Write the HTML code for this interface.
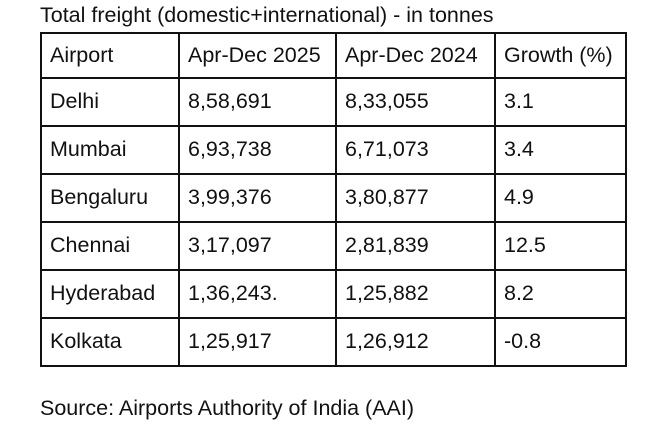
<!DOCTYPE html>
<html><head><style>
body{margin:0;width:660px;height:428px;background:#fff;font-family:"Liberation Sans",Arial,sans-serif;color:#111;position:relative;overflow:hidden}
.t{position:absolute;left:40px;top:3px;font-size:21.5px;line-height:24px}
.s{position:absolute;left:40px;top:396px;font-size:21.5px;line-height:24px}
.h{position:absolute;background:#111;height:2px;left:40px;width:587px}
.v{position:absolute;background:#111;width:2px;top:32px;height:335px}
.c{position:absolute;font-size:21.5px;line-height:24px}
</style></head><body>
<div class="t">Total freight (domestic+international) - in tonnes</div>
<div class="h" style="top:32px"></div><div class="h" style="top:77px"></div>
<div class="h" style="top:125px"></div><div class="h" style="top:173px"></div>
<div class="h" style="top:221px"></div><div class="h" style="top:269px"></div>
<div class="h" style="top:317px"></div><div class="h" style="top:365px"></div>
<div class="v" style="left:40px"></div><div class="v" style="left:178px"></div>
<div class="v" style="left:335px"></div><div class="v" style="left:494px"></div>
<div class="v" style="left:625px"></div>
<div class="c" style="left:50px;top:43px">Airport</div><div class="c" style="left:188px;top:43px">Apr-Dec 2025</div><div class="c" style="left:345px;top:43px">Apr-Dec 2024</div><div class="c" style="left:504px;top:43px">Growth (%)</div>
<div class="c" style="left:50px;top:89px">Delhi</div><div class="c" style="left:188px;top:89px">8,58,691</div><div class="c" style="left:345px;top:89px">8,33,055</div><div class="c" style="left:504px;top:89px">3.1</div>
<div class="c" style="left:50px;top:137px">Mumbai</div><div class="c" style="left:188px;top:137px">6,93,738</div><div class="c" style="left:345px;top:137px">6,71,073</div><div class="c" style="left:504px;top:137px">3.4</div>
<div class="c" style="left:50px;top:185px">Bengaluru</div><div class="c" style="left:188px;top:185px">3,99,376</div><div class="c" style="left:345px;top:185px">3,80,877</div><div class="c" style="left:504px;top:185px">4.9</div>
<div class="c" style="left:50px;top:233px">Chennai</div><div class="c" style="left:188px;top:233px">3,17,097</div><div class="c" style="left:345px;top:233px">2,81,839</div><div class="c" style="left:504px;top:233px">12.5</div>
<div class="c" style="left:50px;top:281px">Hyderabad</div><div class="c" style="left:188px;top:281px">1,36,243.</div><div class="c" style="left:345px;top:281px">1,25,882</div><div class="c" style="left:504px;top:281px">8.2</div>
<div class="c" style="left:50px;top:329px">Kolkata</div><div class="c" style="left:188px;top:329px">1,25,917</div><div class="c" style="left:345px;top:329px">1,26,912</div><div class="c" style="left:504px;top:329px">-0.8</div>
<div class="s">Source: Airports Authority of India (AAI)</div>
</body></html>
